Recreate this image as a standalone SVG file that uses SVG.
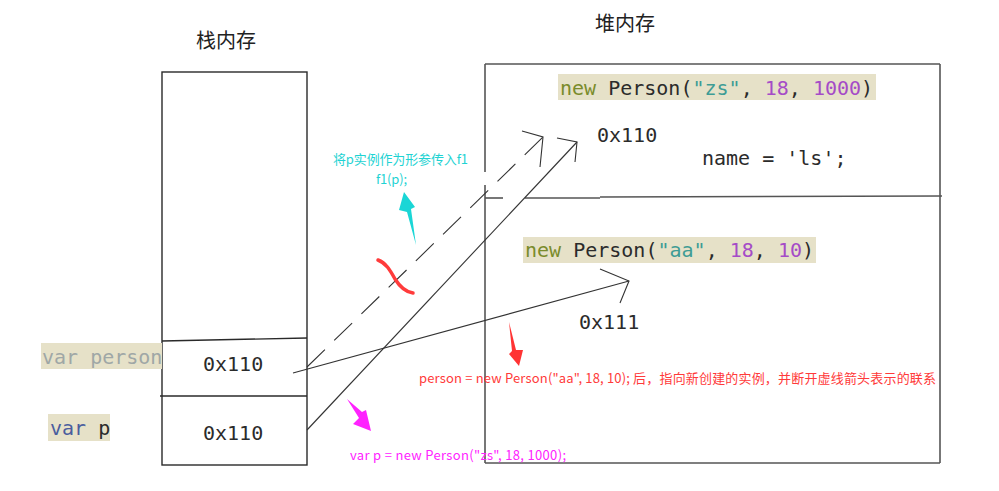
<svg xmlns="http://www.w3.org/2000/svg" width="999" height="491" viewBox="0 0 999 491">
<style>
.box{fill:none;stroke:#2a2a2a;stroke-width:1.4}
.hbox{fill:none;stroke:#555;stroke-width:1.6}
.code{font-family:"DejaVu Sans Mono","Liberation Mono",monospace;font-size:20px;fill:#2b2b2b}
.bg{fill:#e6e1c8}
.kw{fill:#7a8b2b}
.str{fill:#3e9c95}
.num{fill:#a54bc7}
.title{font-family:"Noto Sans CJK SC","Noto Sans CJK JP",sans-serif;font-size:20px;fill:#222}
.note{font-family:"Noto Sans CJK SC","Noto Sans CJK JP",sans-serif;font-size:13px}
.ln{fill:none;stroke:#333;stroke-width:1.1}
</style>
<rect width="999" height="491" fill="#fff"/>

<g id="stack">
  <text class="title" x="196" y="48">栈内存</text>
  <rect class="box" x="162" y="72" width="145" height="393"/>
  <line class="box" x1="162" y1="341" x2="307" y2="338"/>
  <line class="box" x1="160" y1="396" x2="307" y2="396"/>
  <text class="code" x="203" y="371">0x110</text>
  <text class="code" x="203" y="440">0x110</text>
</g>

<g id="var-person">
  <rect class="bg" x="41" y="343" width="121" height="26"/>
  <text class="code" x="42" y="364" style="fill:#9fa7a6">var person</text>
</g>

<g id="var-p">
  <rect class="bg" x="48" y="414" width="62" height="27"/>
  <text class="code" x="50" y="435"><tspan style="fill:#4a5d9e">var</tspan> p</text>
</g>

<g id="heap">
  <text class="title" x="595" y="31">堆内存</text>
  <line class="hbox" x1="485" y1="64" x2="940" y2="64"/>
  <line class="hbox" x1="940" y1="64" x2="940" y2="463"/>
  <line class="hbox" x1="940" y1="463" x2="485" y2="463"/>
  <line class="hbox" x1="485" y1="64" x2="485" y2="172"/>
  <line class="hbox" x1="485" y1="185" x2="485" y2="463"/>
  <line class="hbox" x1="485" y1="198" x2="503" y2="198"/>
  <line class="hbox" x1="525" y1="198" x2="600" y2="198"/>
  <line class="hbox" x1="600" y1="197" x2="942" y2="196"/>
</g>

<g id="obj-zs">
  <rect class="bg" x="558" y="74" width="318" height="26"/>
  <text class="code" x="560" y="95"><tspan class="kw">new</tspan> Person(<tspan class="str">"zs"</tspan>, <tspan class="num">18</tspan>, <tspan class="num">1000</tspan>)</text>
  <text class="code" x="597" y="142">0x110</text>
  <text class="code" x="702" y="165">name = 'ls';</text>
</g>

<g id="obj-aa">
  <rect class="bg" x="523" y="237" width="293" height="26"/>
  <text class="code" x="525" y="257"><tspan class="kw">new</tspan> Person(<tspan class="str">"aa"</tspan>, <tspan class="num">18</tspan>, <tspan class="num">10</tspan>)</text>
  <text class="code" x="579" y="329">0x111</text>
</g>

<g id="connectors">
  <path class="ln" d="M307,367 L543,137" stroke-dasharray="25,13"/>
  <path class="ln" d="M522,131 L543,137 L540,167"/>
  <path class="ln" d="M307,430 L577,142"/>
  <path class="ln" d="M557,138 L577,142 L575,162"/>
  <path class="ln" d="M293,373 L629,281"/>
  <path class="ln" d="M600,269 L629,281 L620,303"/>
</g>

<g id="annotations">
  <text class="note" x="333" y="164" fill="#1fd3d3" textLength="135">将p实例作为形参传入f1</text>
  <text class="note" x="376" y="184" fill="#1fd3d3" textLength="31">f1(p);</text>
  <polygon points="404,192 415,207 411,209 416,245 407,212 399,210" fill="#1ad6d6"/>
  <path d="M378,260 C386,263 390,270 395,279 C400,287 405,292 413,293" fill="none" stroke="#ff3b3b" stroke-width="3.5" stroke-linecap="round"/>
  <polygon points="509,322 516,350 523,350 519,366 509,354 512,351" fill="#ff3333"/>
  <text class="note" x="419" y="383" fill="#ff3a3a" textLength="517">person = new Person("aa", 18, 10); 后，指向新创建的实例，并断开虚线箭头表示的联系</text>
  <polygon points="347,399 362,412 366,410 371,431 353,424 359,418" fill="#ff22ff"/>
  <text class="note" x="350" y="460" fill="#ff22ff" textLength="216">var p = new Person("zs", 18, 1000);</text>
</g>
</svg>
